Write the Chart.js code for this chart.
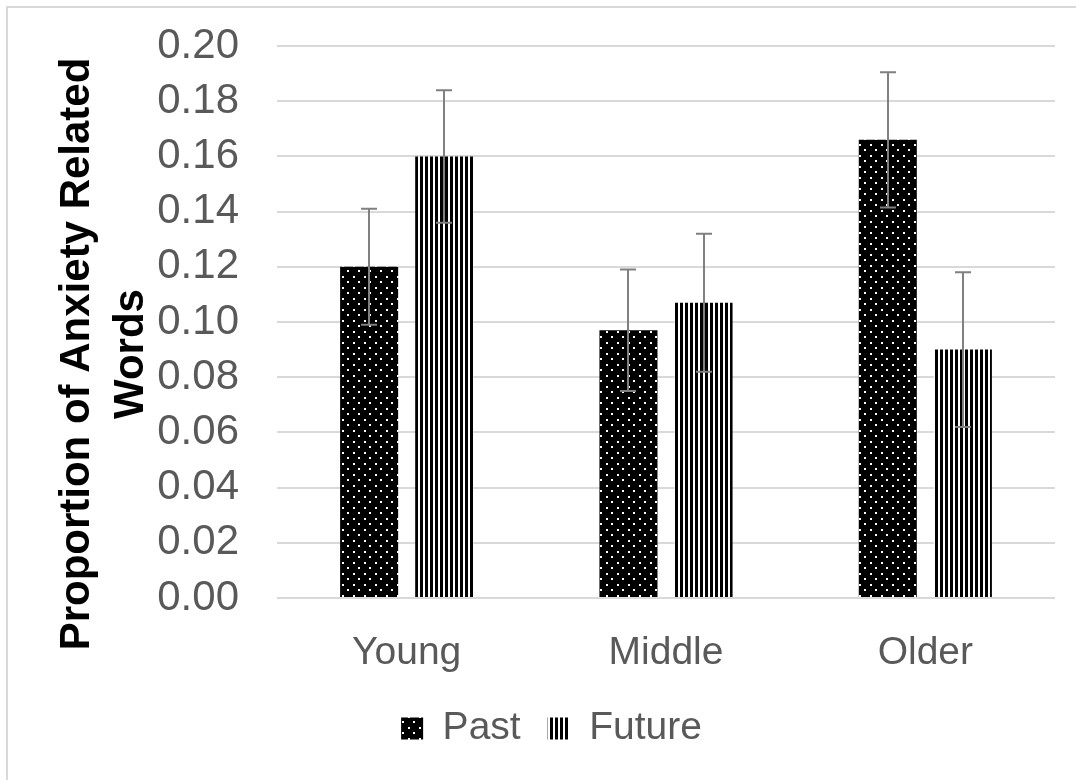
<!DOCTYPE html>
<html>
<head>
<meta charset="utf-8">
<script src="https://cdn.jsdelivr.net/npm/chart.js@4.4.1/dist/chart.umd.min.js"></script>
<style>
  html, body { margin: 0; padding: 0; background: #fff; }
  #wrap { width: 1076px; height: 780px; }
</style>
</head>
<body>
<div id="wrap"><canvas id="chart" width="1076" height="780"></canvas></div>
<script>
const categories = ['Young', 'Middle', 'Older'];
const pastValues = [0.120, 0.097, 0.166];
const futureValues = [0.160, 0.107, 0.090];
const pastErrors = [0.021, 0.022, 0.0245];
const futureErrors = [0.024, 0.025, 0.028];
const yTitleLines = ['Proportion of Anxiety Related', 'Words'];

const FONT = 'Liberation Sans, Arial, sans-serif';

// black with small white dots, rows offset
function dotPattern() {
  const c = document.createElement('canvas');
  c.width = 11; c.height = 11;
  const g = c.getContext('2d');
  g.fillStyle = '#000';
  g.fillRect(0, 0, 11, 11);
  g.fillStyle = '#fff';
  g.fillRect(1, 1, 2, 2);
  g.fillRect(6, 6, 2, 2);
  return g.createPattern(c, 'repeat');
}

// vertical black/white stripes
function stripePattern() {
  const c = document.createElement('canvas');
  c.width = 5; c.height = 5;
  const g = c.getContext('2d');
  g.fillStyle = '#fff';
  g.fillRect(0, 0, 5, 5);
  g.fillStyle = '#000';
  g.fillRect(0, 0, 3, 5);
  return g.createPattern(c, 'repeat');
}

const frame = {
  id: 'frame',
  beforeDraw(chart) {
    const ctx = chart.ctx;
    ctx.save();
    ctx.fillStyle = '#fff';
    ctx.fillRect(0, 0, chart.width, chart.height);
    ctx.strokeStyle = '#d9d9d9';
    ctx.lineWidth = 2;
    ctx.strokeRect(7, 7, chart.width + 20, chart.height + 20);
    ctx.restore();
  }
};

const errorBars = {
  id: 'errorBars',
  afterDatasetsDraw(chart) {
    const ctx = chart.ctx;
    const y = chart.scales.y;
    ctx.save();
    ctx.strokeStyle = '#808080';
    ctx.lineWidth = 2;
    chart.data.datasets.forEach((ds, i) => {
      const meta = chart.getDatasetMeta(i);
      meta.data.forEach((bar, j) => {
        const v = ds.data[j], e = ds.errors[j];
        const top = y.getPixelForValue(v + e);
        const bot = y.getPixelForValue(v - e);
        const x = Math.round(bar.x);
        ctx.beginPath();
        ctx.moveTo(x, top); ctx.lineTo(x, bot);
        ctx.moveTo(x - 8, top); ctx.lineTo(x + 8, top);
        ctx.moveTo(x - 8, bot); ctx.lineTo(x + 8, bot);
        ctx.stroke();
      });
    });
    ctx.restore();
  }
};

// y title drawn by hand so it can sit off-centre like the original
const yTitle = {
  id: 'yTitle',
  afterDraw(chart) {
    const ctx = chart.ctx;
    ctx.save();
    ctx.fillStyle = '#000';
    ctx.font = 'bold 42px ' + FONT;
    ctx.textAlign = 'center';
    ctx.textBaseline = 'alphabetic';
    yTitleLines.forEach((line, i) => {
      ctx.save();
      ctx.translate(89 + i * 54, 354);
      ctx.rotate(-Math.PI / 2);
      ctx.fillText(line, 0, 0);
      ctx.restore();
    });
    ctx.restore();
  }
};

const shiftLegend = {
  id: 'shiftLegend',
  afterLayout(chart) {
    chart.legend.left += 24;
    chart.legend.right += 24;
  }
};

Chart.defaults.font.family = FONT;

new Chart(document.getElementById('chart'), {
  type: 'bar',
  data: {
    labels: categories,
    datasets: [
      { label: 'Past', data: pastValues, errors: pastErrors, backgroundColor: dotPattern(), borderWidth: 0 },
      { label: 'Future', data: futureValues, errors: futureErrors, backgroundColor: stripePattern(), borderWidth: 0 }
    ]
  },
  options: {
    responsive: false,
    animation: false,
    devicePixelRatio: 1,
    categoryPercentage: 0.579,
    barPercentage: 0.773,
    layout: { padding: { left: 0, top: 46, right: 21, bottom: 22 } },
    plugins: {
      tooltip: { enabled: false },
      legend: {
        position: 'bottom',
        labels: {
          boxWidth: 22,
          boxHeight: 22,
          padding: 27,
          color: '#595959',
          font: { size: 39 }
        }
      }
    },
    scales: {
      x: {
        grid: { display: false },
        border: { display: false },
        ticks: { color: '#595959', font: { size: 39 }, padding: 24 },
        afterFit(scale) { scale.height = 84; }
      },
      y: {
        min: 0,
        max: 0.2,
        grid: { color: '#d9d9d9', lineWidth: 2, drawTicks: true, tickLength: 38, tickColor: 'rgba(0,0,0,0)' },
        border: { display: false },
        ticks: {
          stepSize: 0.02,
          color: '#595959',
          font: { size: 42 },
          padding: 0,
          callback: v => v.toFixed(2)
        },
        afterFit(scale) { scale.width = 277; }
      }
    }
  },
  plugins: [frame, errorBars, yTitle, shiftLegend]
});
</script>
</body>
</html>
